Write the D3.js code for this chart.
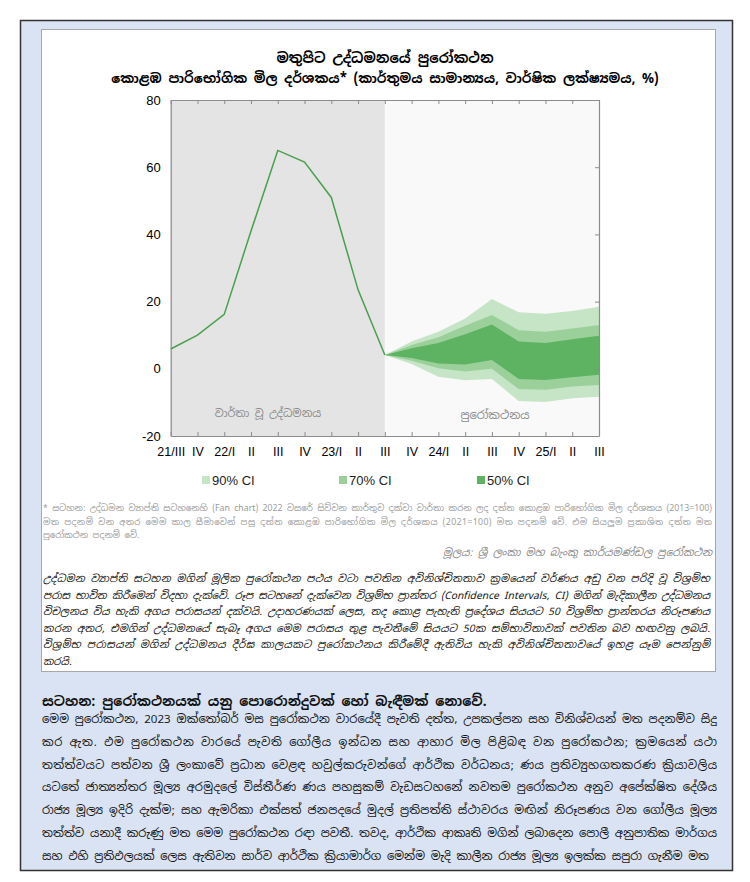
<!DOCTYPE html>
<html><head><meta charset="utf-8">
<script src="https://cdn.jsdelivr.net/npm/d3@7"></script>
<style>
body{margin:0;background:#fff;}
svg text{font-family:"Noto Sans Sinhala","Iskoola Pota","Liberation Sans",Arial,sans-serif;}
</style></head>
<body>
<svg id="c" width="750" height="882"></svg>
<script>
const quarterLabels = ["21/III","IV","22/I","II","III","IV","23/I","II","III","IV","24/I","II","III","IV","25/I","II","III"];
const reportedInflation = [5.9, 10.0, 16.2, 41.0, 65.0, 61.5, 51.0, 23.5, 4.1];
const fanStart = 8;
const ci90Upper = [4.1, 8.1, 11.0, 15.0, 20.8, 16.8, 16.4, 17.2, 18.5];
const ci70Upper = [4.1, 7.1, 9.4, 12.8, 16.0, 11.5, 11.0, 12.0, 13.0];
const ci50Upper = [4.1, 6.1, 7.7, 10.3, 13.2, 8.1, 7.7, 8.8, 9.8];
const ci50Lower = [4.1, 3.2, 1.6, 1.3, 2.6, -3.0, -3.3, -2.5, -1.8];
const ci70Lower = [4.1, 2.4, 0.2, -0.8, 0.0, -6.0, -6.2, -5.3, -4.8];
const ci90Lower = [4.1, 1.4, -2.4, -3.4, -3.0, -9.6, -9.9, -8.8, -8.3];
const yTicks = [80, 60, 40, 20, 0, -20];
const legendLabels = ["90% CI", "70% CI", "50% CI"];
const titleLines = ["මතුපිට උද්ධමනයේ පුරෝකථන", "කොළඹ පාරිභෝගික මිල දර්ශකය* (කාර්තුමය සාමාන්‍යය, වාර්ෂික ලක්ෂ්‍යමය, %)"];
const noteLines = [
 "* සටහන: උද්ධමන ව්‍යාප්ති සටහනෙහි (Fan chart) 2022 වසරේ සිව්වන කාර්තුව දක්වා වාර්තා කරන ලද දත්ත කොළඹ පාරිභෝගික මිල දර්ශකය (2013=100)",
 "මත පදනම් වන අතර මෙම කාල සීමාවෙන් පසු දත්ත කොළඹ පාරිභෝගික මිල දර්ශකය (2021=100) මත පදනම් වේ. එම සියලුම ප්‍රකාශිත දත්ත මත",
 "පුරෝකථන පදනම් වේ."];
const sourceText = "මූලය: ශ්‍රී ලංකා මහ බැංකු කාර්යමණ්ඩල පුරෝකථන";
const explainLines = [
 "උද්ධමන ව්‍යාප්ති සටහන මගින් මූලික පුරෝකථන පථය වටා පවතින අවිනිශ්චිතතාව ක්‍රමයෙන් වර්ණය අඩු වන පරිදි වූ විශ්‍රම්භ",
 "පරාස භාවිත කිරීමෙන් විදහා දැක්වේ. රූප සටහනේ දැක්වෙන විශ්‍රම්භ ප්‍රාන්තර (Confidence Intervals, CI) මගින් මැදිකාලීන උද්ධමනය",
 "විචලනය විය හැකි අගය පරාසයන් දක්වයි. උදාහරණයක් ලෙස, තද කොළ පැහැති ප්‍රදේශය සියයට 50 විශ්‍රම්භ ප්‍රාන්තරය නිරූපණය",
 "කරන අතර, එමගින් උද්ධමනයේ සැබෑ අගය මෙම පරාසය තුළ පැවතීමේ සියයට 50ක සම්භාවිතාවක් පවතින බව හඟවනු ලබයි.",
 "විශ්‍රම්භ පරාසයන් මගින් උද්ධමනය දීර්ඝ කාලයකට පුරෝකථනය කිරීමේදී ඇතිවිය හැකි අවිනිශ්චිතතාවයේ ඉහළ යෑම පෙන්නුම්",
 "කරයි."];
const headingText = "සටහන: පුරෝකථනයක් යනු පොරොන්දුවක් හෝ බැඳීමක් නොවේ.";
const bodyLines = [
 "මෙම පුරෝකථන, 2023 ඔක්තෝබර් මස පුරෝකථන වාරයේදී පැවති දත්ත, උපකල්පන සහ විනිශ්චයන් මත පදනම්ව සිදු",
 "කර ඇත. එම පුරෝකථන වාරයේ පැවති ගෝලීය ඉන්ධන සහ ආහාර මිල පිළිබඳ වන පුරෝකථන; ක්‍රමයෙන් යථා",
 "තත්ත්වයට පත්වන ශ්‍රී ලංකාවේ ප්‍රධාන වෙළඳ හවුල්කරුවන්ගේ ආර්ථික වර්ධනය; ණය ප්‍රතිව්‍යුහගතකරණ ක්‍රියාවලිය",
 "යටතේ ජාත්‍යන්තර මූල්‍ය අරමුදලේ විස්තීර්ණ ණය පහසුකම් වැඩසටහනේ නවතම පුරෝකථන අනුව අපේක්ෂිත දේශීය",
 "රාජ්‍ය මූල්‍ය ඉදිරි දැක්ම; සහ ඇමරිකා එක්සත් ජනපදයේ මුදල් ප්‍රතිපත්ති ස්ථාවරය මඟින් නිරූපණය වන ගෝලීය මූල්‍ය",
 "තත්ත්ව යනාදී කරුණු මත මෙම පුරෝකථන රඳා පවතී. තවද, ආර්ථික ආකෘති මගින් ලබාදෙන පොලී අනුපාතික මාර්ගය",
 "සහ එහි ප්‍රතිඵලයක් ලෙස ඇතිවන සාර්ව ආර්ථික ක්‍රියාමාර්ග මෙන්ම මැදි කාලීන රාජ්‍ය මූල්‍ය ඉලක්ක සපුරා ගැනීම මත"];

const colors = {c90:"#c6e4c6", c70:"#9bd09b", c50:"#5db361", line:"#4a9f4e"};
const numFont = "'Liberation Sans',Arial,sans-serif";

const svg = d3.select("#c");
// frames
svg.append("rect").attr("x",20.5).attr("y",20.5).attr("width",712).attr("height",850)
  .attr("fill","#dae3f3").attr("stroke","#333").attr("stroke-width",1.5);
svg.append("rect").attr("x",41.5).attr("y",29.5).attr("width",674).attr("height",642)
  .attr("fill","#fff").attr("stroke","#a8a8a8").attr("stroke-width",1);

const L = 170.7, R = 599, T = 100, B = 436;
const x = d3.scaleLinear().domain([0, quarterLabels.length-1]).range([L, R]);
const y = d3.scaleLinear().domain([-20, 80]).range([B, T]);

// title
svg.selectAll(".title").data(titleLines).join("text")
  .attr("x",385).attr("y",(d,i)=>63+i*20).attr("text-anchor","middle")
  .attr("font-size",(d,i)=>i==0?14:13.3).attr("font-weight","bold").attr("fill","#000").text(d=>d);

// backgrounds
svg.append("rect").attr("x",L).attr("y",T).attr("width",x(fanStart)-L).attr("height",B-T).attr("fill","#e4e4e4");
svg.append("rect").attr("x",x(fanStart)).attr("y",T).attr("width",R-x(fanStart)).attr("height",B-T).attr("fill","#f9f9f9");

// region labels
svg.append("text").attr("x",268).attr("y",417).attr("text-anchor","middle").attr("font-size",11).attr("fill","#8a8a8a").text("වාර්තා වූ උද්ධමනය");
svg.append("text").attr("x",495).attr("y",419).attr("text-anchor","middle").attr("font-size",11.5).attr("fill","#8a8a8a").text("පුරෝකථනය");

// fan
const idx = d3.range(ci90Upper.length);
function band(up, lo, col){
  const area = d3.area().x(i=>x(fanStart+i)).y0(i=>y(lo[i])).y1(i=>y(up[i]));
  svg.append("path").datum(idx).attr("d",area).attr("fill",col);
}
band(ci90Upper, ci90Lower, colors.c90);
band(ci70Upper, ci70Lower, colors.c70);
band(ci50Upper, ci50Lower, colors.c50);

// line
svg.append("path").datum(reportedInflation)
  .attr("d", d3.line().x((d,i)=>x(i)).y(d=>y(d)))
  .attr("fill","none").attr("stroke",colors.line).attr("stroke-width",1.5);

// axes
const tickIdx = d3.range(quarterLabels.length);
const gB = svg.append("g").attr("transform",`translate(0,${B})`)
  .call(d3.axisBottom(x).tickValues(tickIdx).tickSizeInner(-4).tickSizeOuter(0).tickPadding(11).tickFormat(i=>quarterLabels[i]));
const gT = svg.append("g").attr("transform",`translate(0,${T})`)
  .call(d3.axisTop(x).tickValues(tickIdx).tickSizeInner(-4).tickSizeOuter(0).tickFormat(""));
const gL = svg.append("g").attr("transform",`translate(${L},0)`)
  .call(d3.axisLeft(y).tickValues(yTicks).tickSizeInner(0).tickSizeOuter(0).tickPadding(10).tickFormat(d=>String(d)));
const gR = svg.append("g").attr("transform",`translate(${R},0)`)
  .call(d3.axisRight(y).tickValues(yTicks).tickSizeInner(-4).tickSizeOuter(0).tickFormat(""));
[gB,gT,gL,gR].forEach(g=>{
  g.select(".domain").attr("stroke","#8c8c8c").attr("stroke-width",1.2);
  g.selectAll(".tick line").attr("stroke","#8c8c8c");
  g.selectAll("text").attr("font-size",13).attr("fill","#000").style("font-family",numFont);
});
gB.selectAll("text").attr("font-size",12.5);

// legend
const legCols = [colors.c90, colors.c70, colors.c50];
const legX = [202, 339, 477];
const lg = svg.selectAll(".leg").data(legendLabels).join("g").attr("transform",(d,i)=>`translate(${legX[i]},480)`);
lg.append("rect").attr("x",0).attr("y",-4).attr("width",8).attr("height",8).attr("fill",(d,i)=>legCols[i]);
lg.append("text").attr("x",10).attr("y",5).attr("font-size",13).attr("fill","#222")
  .style("font-family",numFont).text(d=>d);

// justified paragraph helper: shrink font so every line fits naturally, then stretch spacing
function paragraph(lines, x0, y0, lh, width, baseSize, attrs){
  const sel = svg.selectAll(null).data(lines).join("text")
    .attr("x",x0).attr("y",(d,i)=>y0+i*lh).attr("font-size",baseSize).text(d=>d);
  Object.entries(attrs).forEach(([k,v])=>sel.attr(k,v));
  let maxW = 0;
  sel.each(function(){ maxW = Math.max(maxW, this.getComputedTextLength()); });
  const fs = maxW > width ? baseSize*(width-2)/maxW : baseSize;
  sel.attr("font-size",fs);
  sel.each(function(d,i){
    if(i<lines.length-1){
      const w = this.getComputedTextLength();
      if(w < width) d3.select(this).attr("textLength",width).attr("lengthAdjust","spacing");
    }
  });
  return sel;
}

// note
paragraph(noteLines, 43, 511, 13.5, 669, 10, {fill:"#9a9a9a"});
svg.append("text").attr("x",712).attr("y",556).attr("text-anchor","end").attr("font-size",10.5)
  .attr("font-style","italic").attr("fill","#888").text(sourceText);

// explanation
paragraph(explainLines, 43, 582, 16.6, 667, 12.5, {"font-style":"italic", fill:"#111"});

// heading and body
svg.append("text").attr("x",42).attr("y",706).attr("font-size",13.5).attr("font-weight","bold").attr("fill","#111").text(headingText);
paragraph(bodyLines, 42, 723, 22.8, 675, 14, {fill:"#111"});
</script>
</body></html>
